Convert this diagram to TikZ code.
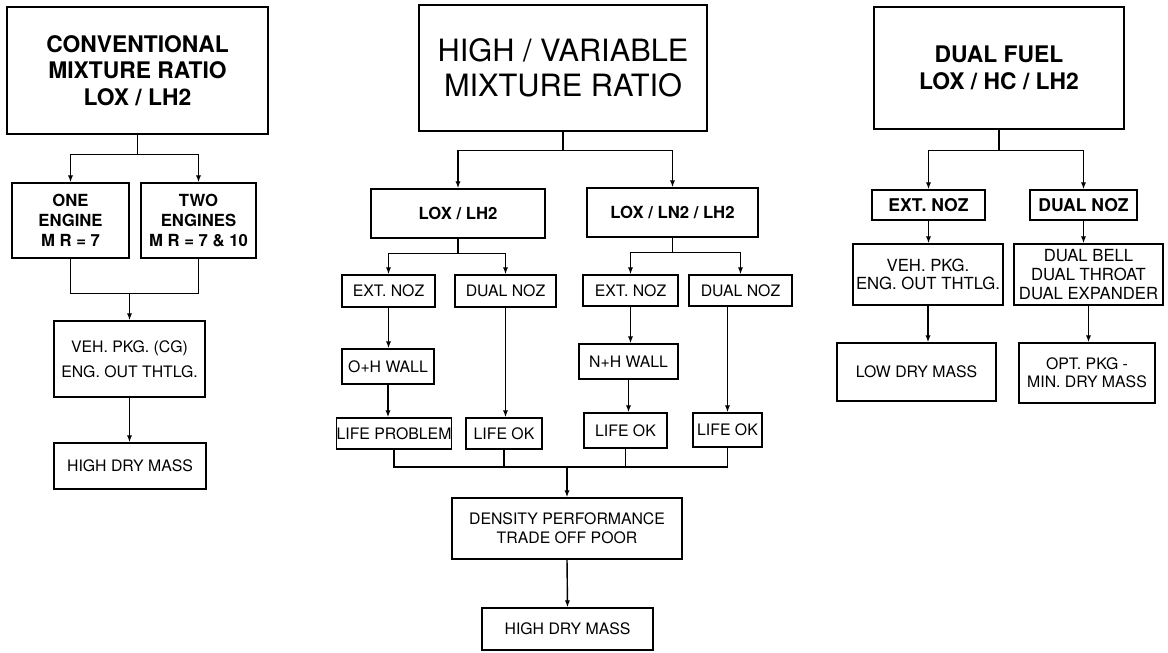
\documentclass[tikz,border=0pt]{standalone}
\usepackage{fontspec}
\setmainfont{TeX Gyre Heros}
\usepackage{tikz}
\usetikzlibrary{arrows.meta, positioning, calc}
\tikzstyle{arrow} = [line width=0.8pt, -{Latex[length=4pt,width=3pt]}]

\begin{document}
\begin{tikzpicture}[
		x=0.02cm, y=-0.02cm,
		every node/.style={font=\fontsize{9}{11}\selectfont},
		box/.style={draw, line width=0.8pt, inner sep=0pt, align=center},
		title/.style={box, font=\bfseries\fontsize{13}{15}\selectfont},
		head/.style={box, font=\bfseries\fontsize{9.5}{11.5}\selectfont},
		wh/.style 2 args={minimum width=#1*0.02cm, minimum height=#2*0.02cm},
		line/.style={line width=0.8pt}
		]
		\useasboundingbox (0,0) rectangle (1168,652);
		
		% Columna izquierda
		\node[title, wh={261}{127}] (conv) at (137.5,70.5) {CONVENTIONAL\\MIXTURE RATIO\\LOX / LH2};
		\node[head, wh={117}{75}] (one) at (70.5,220.5) {ONE\\ENGINE\\M R = 7};
		\node[head, wh={115}{75}] (two) at (198.5,220.5) {TWO\\ENGINES\\M R = 7 \& 10};
		\node[box, wh={151}{76}, font=\fontsize{9}{14}\selectfont] (veh) at (129.5,359) {VEH. PKG. (CG)\\ENG. OUT THTLG.};
		\node[box, wh={152}{46}] (hdm1) at (130,466) {HIGH DRY MASS};
		
		% Columna central
		\node[box, wh={288}{126}, font=\fontsize{17.5}{20}\selectfont] (hv) at (563,68) {HIGH / VARIABLE\\MIXTURE RATIO};
		\node[head, wh={174}{49}] (lh2) at (458,213.5) {LOX / LH2};
		\node[head, wh={171}{49}] (ln2) at (672.5,212.5) {LOX / LN2 / LH2};
		\node[box, wh={93}{32}] (en1) at (388.5,291) {EXT. NOZ};
		\node[box, wh={101}{32}] (dn1) at (505.5,291) {DUAL NOZ};
		\node[box, wh={92}{35}] (ohw) at (388,366.5) {O+H WALL};
		\node[box, wh={114}{31}] (lprob) at (394,433.5) {LIFE PROBLEM};
		\node[box, wh={76}{31}] (lok2) at (504,433.5) {LIFE OK};
		\node[box, wh={95}{31}] (en2) at (630.5,290.5) {EXT. NOZ};
		\node[box, wh={103}{31}] (dn2) at (740.5,290.5) {DUAL NOZ};
		\node[box, wh={99}{35}] (nhw) at (628.5,361.5) {N+H WALL};
		\node[box, wh={83}{35}] (lok3) at (625.5,430.5) {LIFE OK};
		\node[box, wh={69}{34}] (lok4) at (727.5,430) {LIFE OK};
		\node[box, wh={230}{61}] (dens) at (567,528.5) {DENSITY PERFORMANCE\\TRADE OFF POOR};
		\node[box, wh={171}{42}] (hdm2) at (567.5,629) {HIGH DRY MASS};
		
		% Columna derecha
		\node[title, wh={250}{122}] (df) at (999,68) {DUAL FUEL\\LOX / HC / LH2};
		\node[head, wh={113}{30}, font=\bfseries\fontsize{10}{12}\selectfont] (en3) at (928.5,205) {EXT. NOZ};
		\node[head, wh={107}{30}, font=\bfseries\fontsize{10}{12}\selectfont] (dn3) at (1083.5,205) {DUAL NOZ};
		\node[box, wh={150}{61}, font=\fontsize{9.5}{10.5}\selectfont] (veh3) at (928,274.5) {VEH. PKG.\\ENG. OUT THTLG.};
		\node[box, wh={149}{61}, font=\fontsize{9.5}{11}\selectfont] (dbell) at (1088.5,274.5) {DUAL BELL\\DUAL THROAT\\DUAL EXPANDER};
		\node[box, wh={159}{58}] (ldm) at (916.5,372) {LOW DRY MASS};
		\node[box, wh={136}{60}, font=\fontsize{9}{10.5}\selectfont] (opt) at (1087,373) {OPT. PKG -\\MIN. DRY MASS};
		
		% Flechas izquierda
		\draw[arrow] (conv.south) -- ++(0,20) -| (one.north);
		\draw[arrow] (conv.south) ++(0,20) -| (two.north);
		\draw[line] (one.south) -- ++(0,35) coordinate (m1) -| (two.south);
		\draw[arrow] (m1 -| veh.north) -- (veh.north);
		\draw[arrow] (veh.south) -- (veh.south |- hdm1.north);
		
		% Flechas centro
		\draw[arrow] (hv.south) -- ++(0,19) -| (lh2.north);
		\draw[arrow] (hv.south) ++(0,19) -| (ln2.north);
		\draw[arrow] (lh2.south) -- ++(0,15) -| (en1.north);
		\draw[arrow] (lh2.south) ++(0,15) -| (dn1.north);
		\draw[arrow] (ln2.south) -- ++(0,15) -| (en2.north);
		\draw[arrow] (ln2.south) ++(0,15) -| (dn2.north);
		\draw[arrow] (en1.south) -- (en1.south |- ohw.north);
		\draw[arrow] (ohw.south) -- (ohw.south |- lprob.north);
		\draw[arrow] (dn1.south) -- (dn1.south |- lok2.north);
		\draw[arrow] (en2.south) -- (en2.south |- nhw.north);
		\draw[arrow] (nhw.south) -- (nhw.south |- lok3.north);
		\draw[arrow] (lok4.north |- dn2.south) -- (lok4.north);
		\coordinate (mj) at (dens.north |- 0,467);
		\draw[line] (lprob.south) |- (mj) -| (lok4.south);
		\draw[line] (lok2.south) -- (lok2.south |- mj);
		\draw[line] (lok3.south) -- (lok3.south |- mj);
		\draw[arrow] (mj) -- (dens.north);
		\draw[arrow] (dens.south) -- (hdm2.north);
		
		% Flechas derecha
		\draw[arrow] (df.south) -- ++(0,21) -| (en3.north);
		\draw[arrow] (df.south) ++(0,21) -| (dn3.north);
		\draw[arrow] (en3.south) -- (en3.south |- veh3.north);
		\draw[arrow] (dn3.south) -- (dn3.south |- dbell.north);
		\draw[arrow] (veh3.south) -- (veh3.south |- ldm.north);
		\draw[arrow] (dbell.south) -- (dbell.south |- opt.north);
	\end{tikzpicture}
\end{document}
